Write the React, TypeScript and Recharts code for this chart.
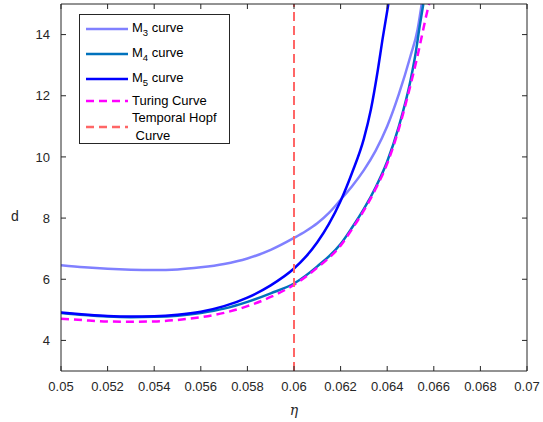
import { LineChart, Line, XAxis, YAxis, ReferenceLine, Legend } from "recharts";

// eta, d pairs
const m3Curve = [
  [0.05, 6.46], [0.051, 6.39], [0.052, 6.34], [0.053, 6.31], [0.054, 6.3],
  [0.055, 6.32], [0.056, 6.39], [0.057, 6.5], [0.058, 6.68], [0.059, 6.96],
  [0.06, 7.35], [0.0605, 7.57], [0.061, 7.83], [0.0615, 8.17], [0.062, 8.6],
  [0.0625, 9.05], [0.063, 9.57], [0.0635, 10.2], [0.064, 11.0], [0.0645, 12.05],
  [0.065, 13.3], [0.0653, 14.15], [0.06548, 15],
];

const m4Curve = [
  [0.05, 4.9], [0.051, 4.83], [0.052, 4.78], [0.053, 4.76], [0.054, 4.77],
  [0.055, 4.81], [0.056, 4.9], [0.057, 5.04], [0.058, 5.26], [0.059, 5.54],
  [0.06, 5.86], [0.061, 6.42], [0.062, 7.15], [0.0625, 7.7], [0.063, 8.3],
  [0.0635, 9.0], [0.064, 9.85], [0.0645, 11.0], [0.065, 12.5], [0.0652, 13.3],
  [0.0654, 14.3], [0.06555, 15],
];

const m5Curve = [
  [0.05, 4.91], [0.051, 4.85], [0.052, 4.8], [0.053, 4.78], [0.054, 4.79],
  [0.055, 4.84], [0.056, 4.94], [0.057, 5.12], [0.058, 5.4], [0.059, 5.8],
  [0.06, 6.35], [0.0605, 6.73], [0.061, 7.21], [0.0615, 7.81], [0.062, 8.56],
  [0.0625, 9.5], [0.063, 10.6], [0.0633, 11.55], [0.0636, 12.85], [0.0638, 13.85],
  [0.06405, 15],
];

const turingCurve = [
  [0.05, 4.71], [0.051, 4.66], [0.052, 4.62], [0.053, 4.61], [0.054, 4.62],
  [0.055, 4.67], [0.056, 4.76], [0.057, 4.9], [0.058, 5.12], [0.059, 5.42],
  [0.06, 5.82], [0.061, 6.38], [0.062, 7.1], [0.0625, 7.65], [0.063, 8.25],
  [0.0635, 8.95], [0.064, 9.78], [0.0645, 10.92], [0.065, 12.35], [0.0653, 13.3],
  [0.0655, 14.0], [0.0657, 14.7], [0.0658, 15],
];

const hopfEta = 0.06;

const etaTicks = [0.05, 0.052, 0.054, 0.056, 0.058, 0.06, 0.062, 0.064, 0.066, 0.068, 0.07];
const dTicks = [4, 6, 8, 10, 12, 14];

const legendItems = [
  { label: ["M"], sub: "3", rest: " curve", color: "#8080ff", dash: "", top: 4 },
  { label: ["M"], sub: "4", rest: " curve", color: "#0072bd", dash: "", top: 29 },
  { label: ["M"], sub: "5", rest: " curve", color: "#0000ff", dash: "", top: 54 },
  { label: ["Turing Curve"], sub: "", rest: "", color: "#ff00ff", dash: "8 5", top: 77 },
  { label: ["Temporal Hopf", "\u00a0Curve"], sub: "", rest: "", color: "#ff6666", dash: "8 5", top: 94 },
];

const toPoints = (rows: number[][]) => rows.map(([eta, d]) => ({ eta, d }));

const axisColor = "#262626";
const font = "'Liberation Sans', Arial, sans-serif";

function CurveLegend() {
  return (
    <div
      style={{
        width: 149,
        height: 128,
        border: `1px solid ${axisColor}`,
        background: "#fff",
        fontFamily: font,
        fontSize: 13,
        color: "#000",
        position: "relative",
      }}
    >
      {legendItems.map((item) => (
        <div
          key={item.label[0] + item.sub}
          style={{ position: "absolute", left: 5, top: item.top, display: "flex", alignItems: "center" }}
        >
          <svg width={44} height={18}>
            <line x1={1} x2={43} y1={9} y2={9} stroke={item.color} strokeWidth={2.5} strokeDasharray={item.dash || undefined} />
          </svg>
          <div style={{ marginLeft: 3, whiteSpace: "nowrap", lineHeight: "18px" }}>
            {item.label.map((line, i) => (
              <div key={i}>
                {line}
                {item.sub && <span style={{ fontSize: 9.5, position: "relative", top: 4 }}>{item.sub}</span>}
                {item.rest}
              </div>
            ))}
          </div>
        </div>
      ))}
    </div>
  );
}

export default function App() {
  return (
    <div style={{ position: "absolute", left: 0, top: 0, background: "#fff" }}>
      <LineChart width={543} height={422} margin={{ top: 3, right: 15, bottom: 0, left: 0 }}>
        <XAxis
          dataKey="eta"
          type="number"
          domain={[0.05, 0.07]}
          ticks={etaTicks}
          tickFormatter={(v) => String(v)}
          height={51}
          tickSize={-5}
          tickMargin={16}
          axisLine={{ stroke: axisColor }}
          tickLine={{ stroke: axisColor }}
          tick={{ fill: axisColor, fontSize: 13, fontFamily: font }}
          allowDataOverflow
          label={{ value: "η", position: "insideBottom", offset: 7, fill: axisColor, fontSize: 14, fontStyle: "italic", fontFamily: "'DejaVu Serif', serif" }}
        />
        <XAxis
          xAxisId="top"
          dataKey="eta"
          orientation="top"
          type="number"
          domain={[0.05, 0.07]}
          ticks={etaTicks}
          height={1}
          tick={() => <g />}
          tickSize={-5}
          allowDataOverflow
          axisLine={{ stroke: axisColor }}
          tickLine={{ stroke: axisColor }}
        />
        <YAxis
          type="number"
          domain={[3, 15]}
          ticks={dTicks}
          width={61}
          tickSize={-5}
          tickMargin={16}
          axisLine={{ stroke: axisColor }}
          tickLine={{ stroke: axisColor }}
          tick={{ fill: axisColor, fontSize: 13, fontFamily: font }}
          allowDataOverflow
          label={({ viewBox }: any) => (
            <text x={viewBox.x + 15} y={viewBox.y + 217} textAnchor="middle" fill={axisColor} fontSize={14} fontFamily={font}>
              d
            </text>
          )}
        />
        <YAxis
          yAxisId="right"
          orientation="right"
          type="number"
          domain={[3, 15]}
          ticks={dTicks}
          width={1}
          tick={() => <g />}
          tickSize={-5}
          allowDataOverflow
          axisLine={{ stroke: axisColor }}
          tickLine={{ stroke: axisColor }}
        />
        <Line data={toPoints(m3Curve)} dataKey="d" type="monotone" stroke="#8080ff" strokeWidth={2.5} dot={false} activeDot={false} isAnimationActive={false} />
        <Line data={toPoints(m4Curve)} dataKey="d" type="monotone" stroke="#0072bd" strokeWidth={2.5} dot={false} activeDot={false} isAnimationActive={false} />
        <Line data={toPoints(m5Curve)} dataKey="d" type="monotone" stroke="#0000ff" strokeWidth={2.5} dot={false} activeDot={false} isAnimationActive={false} />
        <Line
          data={toPoints(turingCurve)}
          xAxisId="top"
          yAxisId="right"
          dataKey="d"
          type="monotone"
          stroke="#ff00ff"
          strokeWidth={2.5}
          strokeDasharray="8 5"
          dot={false}
          activeDot={false}
          isAnimationActive={false}
        />
        <ReferenceLine x={hopfEta} stroke="#ff6666" strokeWidth={2} strokeDasharray="9 5" />
        <Legend
          layout="vertical"
          align="center"
          verticalAlign="middle"
          wrapperStyle={{ left: 79, top: 14, width: 151, height: 130 }}
          content={() => <CurveLegend />}
        />
      </LineChart>
    </div>
  );
}
